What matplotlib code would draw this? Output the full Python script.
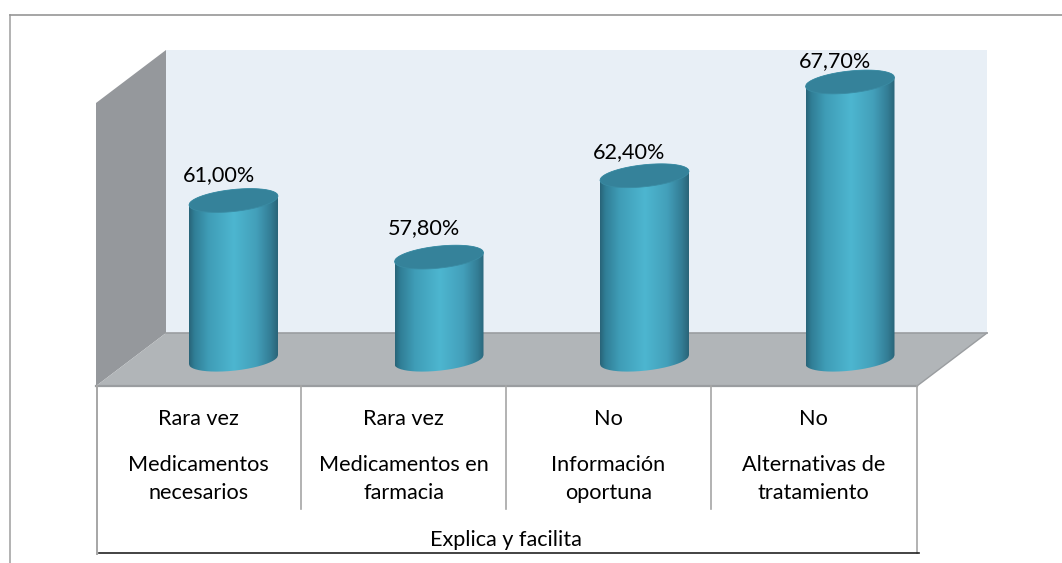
import numpy as np
import matplotlib
matplotlib.use("Agg")
import matplotlib.pyplot as plt
from matplotlib.path import Path
from matplotlib.patches import PathPatch, Polygon
from matplotlib.colors import LinearSegmentedColormap

plt.rcParams['font.family'] = ['Lato', 'DejaVu Sans']

# ---- data ----
frequency = ["Rara vez", "Rara vez", "No", "No"]
items = ["Medicamentos\nnecesarios", "Medicamentos en\nfarmacia",
         "Información\noportuna", "Alternativas de\ntratamiento"]
group_label = "Explica y facilita"
values = [61.0, 57.8, 62.4, 67.7]
value_labels = ["61,00%", "57,80%", "62,40%", "67,70%"]
axis_floor = 52.0

# ---- style / layout ----
W, H = 1062, 563
PX_X, X0 = 205.5, 233.5      # px per category, px of category 0
PX_Y, Y61 = 17.69, 200.5     # px per value unit, px of value 61
label_dy = [25.5, 29, 24, 21]
FS = 15.6

fig = plt.figure(figsize=(W / 100, H / 100), dpi=100, facecolor='white')
px = fig.add_axes([0, 0, 1, 1], zorder=0)
px.set_xlim(0, W); px.set_ylim(H, 0); px.axis('off')
ax = fig.add_axes([0, 0, 1, 1], zorder=1)
ax.patch.set_alpha(0)
ax.set_xlim(-X0 / PX_X, (W - X0) / PX_X)
ax.set_ylim(61 - (H - Y61) / PX_Y, 61 + Y61 / PX_Y)
ax.axis('off')

# outer frame
GR = '#A6A6A6'
px.plot([10, 10], [563, 14.5], color=GR, lw=1.2)
px.plot([9.5, 1062], [14.5, 14.5], color='#969696', lw=1.2)

# walls and floor
px.add_patch(Polygon([(166, 50), (987, 50), (987, 333), (166, 333)], fc='#E8EFF6', ec='none'))
px.add_patch(Polygon([(96, 103), (166, 50), (166, 333), (96, 386)], fc='#95989C', ec='none'))
px.add_patch(Polygon([(96, 386), (166, 333), (987, 333), (917, 386)], fc='#B1B5B8', ec='none'))
px.plot([166, 987], [333, 333], color='#9A9DA0', lw=1.2)
px.plot([96, 917], [386, 386], color='#9A9DA0', lw=1.6)
px.plot([917, 987], [386, 333], color='#9A9DA0', lw=1)

# category table lines
px.plot([96.5, 96.5], [386, 554], color=GR, lw=1.4)
px.plot([916.5, 916.5], [386, 553], color=GR, lw=1.2)
for x in (301, 506, 711):
    px.plot([x, x], [386, 509], color=GR, lw=1.2)
px.plot([99, 919], [552.5, 552.5], color='#222222', lw=1.2)

# cylinders
HW = 44.5 / PX_X          # half width, category units
TILT = 4.5 / PX_Y         # rise at right end, value units
RY = 11.0 / PX_Y          # ellipse half height, value units
cmap = LinearSegmentedColormap.from_list('cyl', [
    (0.00, '#286478'), (0.06, '#307E96'), (0.22, '#3F9DB7'), (0.50, '#4DB6D0'),
    (0.76, '#439FBA'), (0.92, '#337D95'), (1.00, '#2A6478')])
t = np.linspace(-1, 1, 121)
grad = np.linspace(0, 1, 256)[None, :]


def ellipse_edge(xc, yc, sign):
    return xc + t * HW, yc + t * TILT + sign * RY * np.sqrt(1 - t ** 2)


for i, v in enumerate(values):
    bx, by = ellipse_edge(i, axis_floor, -1)   # front of base
    tx, ty = ellipse_edge(i, v, -1)            # front of top
    ux, uy = ellipse_edge(i, v, 1)             # back of top
    verts = np.vstack([np.c_[bx, by], np.c_[ux, uy][::-1], [[bx[0], by[0]]]])
    body = Path(verts, closed=False)
    im = ax.imshow(grad, cmap=cmap, aspect='auto', zorder=3,
                   extent=[i - HW, i + HW, axis_floor - 1, v + 1])
    im.set_clip_path(PathPatch(body, transform=ax.transData))
    lid = np.vstack([np.c_[tx, ty], np.c_[ux, uy][::-1]])
    ax.add_patch(Polygon(lid, closed=True, fc='#35829A', ec='#3A8BA3', lw=0.6, zorder=4))
    ax.annotate(value_labels[i], (i, v), xytext=(-15 * 0.72, label_dy[i] * 0.72),
                textcoords='offset points', ha='center', va='center',
                fontsize=FS, color='black', zorder=5)
ax.set_xlim(-X0 / PX_X, (W - X0) / PX_X)
ax.set_ylim(61 - (H - Y61) / PX_Y, 61 + Y61 / PX_Y)

# category labels
for i, (f, it) in enumerate(zip(frequency, items)):
    x = 198.5 + i * 205
    px.text(x, 419, f, ha='center', va='center', fontsize=FS, color='black')
    first, second = it.split('\n')
    px.text(x, 465, first, ha='center', va='center', fontsize=FS, color='black')
    px.text(x, 493, second, ha='center', va='center', fontsize=FS, color='black')
px.text(506, 540, group_label, ha='center', va='center', fontsize=FS, color='black')

fig.savefig('out.png', dpi=100)
